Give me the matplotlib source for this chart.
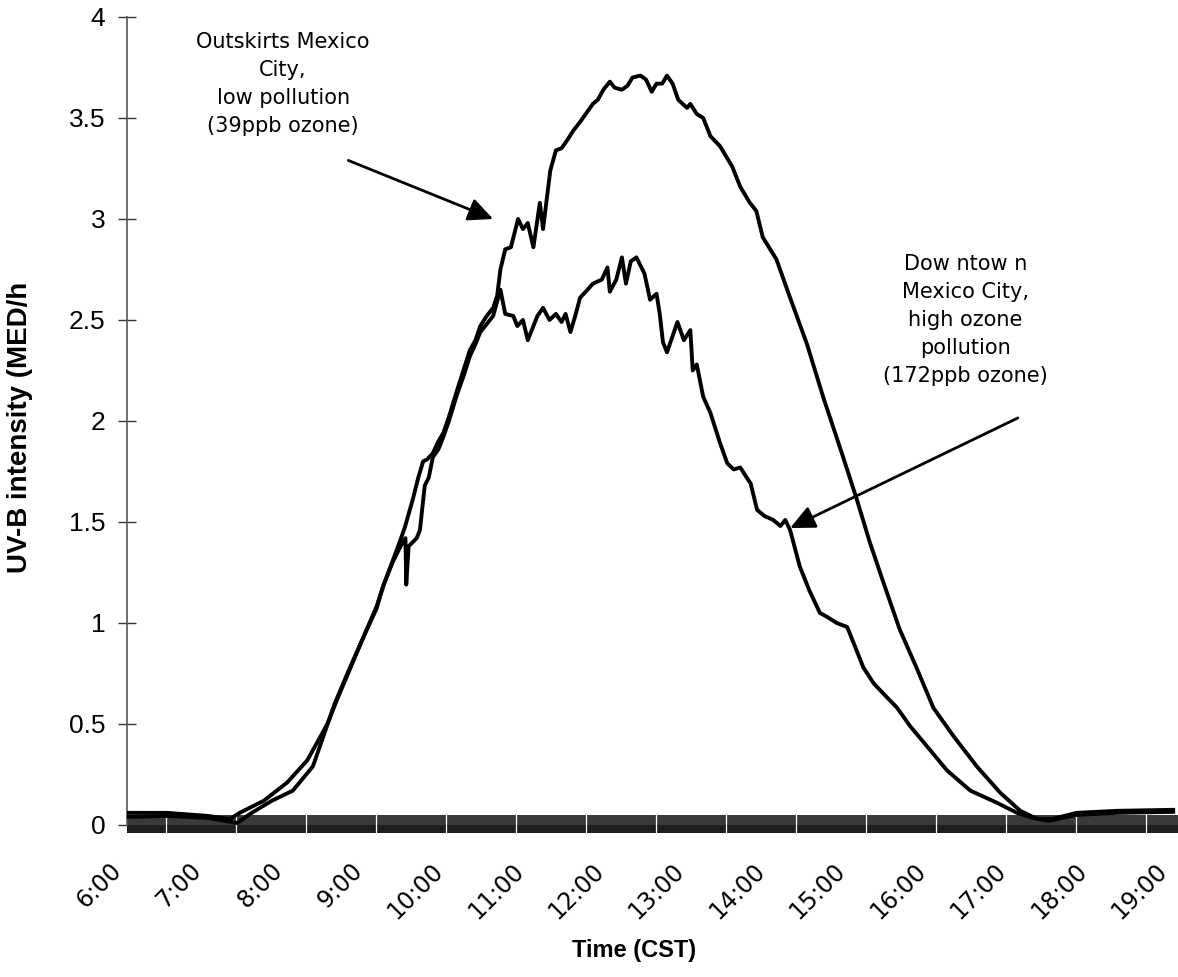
import numpy as np
import matplotlib.pyplot as plt
import matplotlib.transforms as mtransforms

# time of day in decimal hours (CST), UV-B intensity in MED/h
out_t = [6.00, 6.50, 7.00, 7.28, 7.40, 7.70, 7.99, 8.24, 8.49, 8.61, 8.80, 8.96,
         9.10, 9.20, 9.36, 9.45, 9.55, 9.62, 9.68, 9.73, 9.80, 9.87, 9.93, 10.00,
         10.10, 10.18, 10.26, 10.33, 10.39, 10.47, 10.55, 10.60, 10.64, 10.70, 10.77,
         10.86, 10.92, 10.98, 11.05, 11.13, 11.17, 11.26, 11.33, 11.40, 11.47, 11.55,
         11.63, 11.70, 11.79, 11.85, 11.92, 12.00, 12.06, 12.15, 12.22, 12.28, 12.38,
         12.45, 12.52, 12.58, 12.65, 12.71, 12.78, 12.85, 12.96, 13.00, 13.08, 13.16,
         13.25, 13.37, 13.52, 13.62, 13.74, 13.82, 13.90, 14.07, 14.24, 14.45, 14.65,
         14.90, 15.07, 15.23, 15.40, 15.60, 15.82, 16.02, 16.27, 16.56, 16.85, 17.10,
         17.31, 17.50, 17.80, 18.30, 19.00]
out_v = [0.06, 0.06, 0.045, 0.03, 0.06, 0.12, 0.21, 0.32, 0.50, 0.62, 0.80, 0.95,
         1.08, 1.20, 1.37, 1.47, 1.61, 1.72, 1.80, 1.81, 1.84, 1.90, 1.94, 2.02,
         2.15, 2.25, 2.35, 2.40, 2.47, 2.52, 2.56, 2.62, 2.75, 2.85, 2.86,
         3.00, 2.95, 2.98, 2.86, 3.08, 2.95, 3.24, 3.34, 3.35, 3.39, 3.44,
         3.48, 3.52, 3.57, 3.59, 3.64, 3.68, 3.65, 3.64, 3.66, 3.70, 3.71,
         3.69, 3.63, 3.67, 3.67, 3.71, 3.67, 3.59, 3.55, 3.57, 3.52, 3.50,
         3.41, 3.36, 3.26, 3.16, 3.08, 3.04, 2.91, 2.80, 2.61, 2.38, 2.12,
         1.82, 1.61, 1.40, 1.20, 0.97, 0.77, 0.58, 0.44, 0.29, 0.16, 0.07,
         0.03, 0.03, 0.06, 0.07, 0.075]

down_t = [6.00, 6.50, 7.00, 7.37, 7.55, 7.80, 8.06, 8.31, 8.45, 8.58, 8.75, 8.96,
          9.10, 9.18, 9.30, 9.40, 9.46, 9.47, 9.50, 9.60, 9.64, 9.70, 9.75, 9.80,
          9.87, 9.93, 10.00, 10.10, 10.18, 10.26, 10.33, 10.39, 10.47, 10.55, 10.64,
          10.70, 10.80, 10.85, 10.92, 10.98, 11.05, 11.10, 11.17, 11.25, 11.33, 11.40,
          11.45, 11.51, 11.57, 11.63, 11.70, 11.79, 11.90, 11.97, 12.00, 12.08, 12.15,
          12.20, 12.26, 12.33, 12.43, 12.50, 12.58, 12.62, 12.66, 12.71, 12.84, 12.92,
          13.00, 13.03, 13.08, 13.16, 13.25, 13.37, 13.46, 13.54, 13.62, 13.75, 13.83,
          13.92, 14.03, 14.12, 14.18, 14.24, 14.36, 14.48, 14.61, 14.70, 14.82, 14.95,
          15.03, 15.15, 15.28, 15.40, 15.57, 15.73, 15.94, 16.19, 16.48, 16.81, 17.06,
          17.26, 17.45, 17.80, 18.30, 19.00]
down_v = [0.04, 0.045, 0.035, 0.01, 0.06, 0.12, 0.17, 0.29, 0.45, 0.60, 0.76, 0.95,
          1.07, 1.18, 1.30, 1.38, 1.42, 1.19, 1.38, 1.42, 1.46, 1.68, 1.72, 1.82,
          1.86, 1.92, 2.00, 2.13, 2.22, 2.32, 2.38, 2.44, 2.48, 2.52, 2.65,
          2.53, 2.52, 2.47, 2.50, 2.40, 2.47, 2.52, 2.56, 2.50, 2.53, 2.49,
          2.53, 2.44, 2.52, 2.61, 2.64, 2.68, 2.70, 2.76, 2.64, 2.70, 2.81,
          2.68, 2.79, 2.81, 2.73, 2.60, 2.63, 2.53, 2.39, 2.34, 2.49, 2.40,
          2.45, 2.25, 2.28, 2.12, 2.04, 1.89, 1.79, 1.76, 1.77, 1.69, 1.56,
          1.53, 1.51, 1.48, 1.51, 1.46, 1.28, 1.16, 1.05, 1.03, 1.00, 0.98,
          0.90, 0.78, 0.70, 0.65, 0.58, 0.49, 0.39, 0.27, 0.17, 0.11, 0.06,
          0.035, 0.02, 0.05, 0.06, 0.065]

hours = list(range(6, 20))
hour_labels = ['6:00', '7:00', '8:00', '9:00', '10:00', '11:00', '12:00', '13:00',
               '14:00', '15:00', '16:00', '17:00', '18:00', '19:00']
y_ticks = [0, 0.5, 1, 1.5, 2, 2.5, 3, 3.5, 4]
y_labels = ['0', '0.5', '1', '1.5', '2', '2.5', '3', '3.5', '4']

fig = plt.figure(figsize=(11.78, 9.77), dpi=100)
ax = fig.add_axes([0.1078, 0.1556, 0.8922, 0.827])

ax.plot(out_t, out_v, color='black', lw=2.8, solid_joinstyle='round', zorder=3)
ax.plot(down_t, down_v, color='black', lw=2.8, solid_joinstyle='round', zorder=3)

ax.set_xlim(6, 19.06)
ax.set_ylim(0, 4)

# the dense category-tick band along the x axis
ax.axhspan(0.0, 0.05, color='#3a3a3a', zorder=2, clip_on=False, lw=0)
ax.axhspan(-0.04, 0.0, color='#1e1e1e', zorder=2, clip_on=False, lw=0)
for xv in np.arange(6.485, 19.06, 0.87):
    ax.plot([xv, xv], [-0.04, 0.05], color='white', lw=0.9, clip_on=False, zorder=2.5)

for s in ['top', 'right', 'bottom']:
    ax.spines[s].set_visible(False)
ax.spines['left'].set_color('#555555')
ax.spines['left'].set_linewidth(1.2)

ax.set_yticks(y_ticks)
ax.set_yticklabels(y_labels, fontfamily='Liberation Sans', fontsize=19)
ax.tick_params(axis='y', direction='inout', length=13, width=1, pad=9, color='#333333')

ax.set_xticks(hours)
ax.set_xticklabels(hour_labels, rotation=45, ha='right', va='top', rotation_mode='anchor',
                   fontfamily='DejaVu Sans', fontsize=17)
ax.tick_params(axis='x', length=0, pad=24)
off = mtransforms.ScaledTranslation(-0.18, 0, fig.dpi_scale_trans)
for lbl in ax.get_xticklabels():
    lbl.set_transform(lbl.get_transform() + off)

fig.text(20 / 1178, 1 - 427 / 977, 'UV-B intensity (MED/h', rotation=90, fontweight='bold',
         fontsize=20, ha='center', va='center', family='Liberation Sans')
fig.text(634 / 1178, 1 - 950 / 977, 'Time (CST)', fontweight='bold', fontsize=17,
         ha='center', va='center', family='Liberation Sans')

ax.text(7.94, 3.67, 'Outskirts Mexico\nCity,\nlow pollution\n(39ppb ozone)', ha='center',
        va='center', fontsize=15, linespacing=1.5, family='DejaVu Sans')
ax.text(16.42, 2.5, 'Dow ntow n\nMexico City,\nhigh ozone\npollution\n(172ppb ozone)',
        ha='center', va='center', fontsize=15, linespacing=1.5, family='DejaVu Sans')

arrow = dict(arrowstyle='-|>,head_length=0.75,head_width=0.35', color='black', lw=2,
             shrinkA=0, shrinkB=0, mutation_scale=20)
ax.annotate('', xy=(10.55, 3.0), xytext=(8.75, 3.29), arrowprops=arrow)
ax.annotate('', xy=(14.24, 1.47), xytext=(17.07, 2.015), arrowprops=arrow)

fig.savefig('out.png', dpi=100)
